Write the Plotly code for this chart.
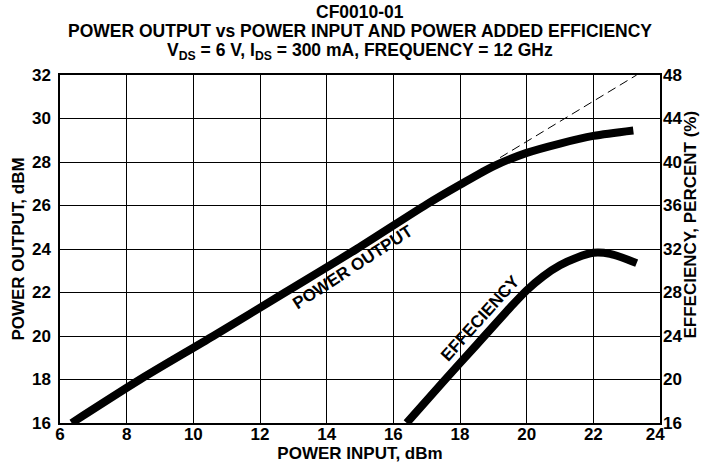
import plotly.graph_objects as go

# Data
pin_out = [6.35, 8.4, 10.6, 12.75, 14.9, 17.0, 18.0, 19.0, 20.0, 21.0, 22.0, 23.2]
pout = [16.0, 18.0, 20.0, 22.0, 24.0, 26.05, 26.95, 27.8, 28.42, 28.85, 29.2, 29.45]
pin_lin = [19.2, 23.3]
pout_lin = [28.2, 32.0]
pin_eff = [16.4, 17.5, 18.5, 19.5, 20.0, 20.5, 21.0, 21.5, 22.0, 22.5, 23.3]
eff = [16.0, 19.8, 23.2, 26.6, 28.2, 29.5, 30.5, 31.2, 31.65, 31.55, 30.7]

x_ticks = [6, 8, 10, 12, 14, 16, 18, 20, 22, 24]
x_ticktext = ["6", "8", "10", "12", "14", "16", "18", "20", "22", "24\u00a0\u00a0"]
y_ticks = [16, 18, 20, 22, 24, 26, 28, 30, 32]
y2_ticks = [16, 20, 24, 28, 32, 36, 40, 44, 48]

FONT = "Liberation Sans"
TF = dict(family=FONT, size=17, color="black", weight="bold")
AF = dict(family=FONT, size=17, color="black")

fig = go.Figure()
fig.add_trace(go.Scatter(x=pin_out, y=pout, mode="lines",
                         line=dict(color="black", width=8, shape="spline", smoothing=0.8),
                         showlegend=False))
fig.add_trace(go.Scatter(x=pin_lin, y=pout_lin, mode="lines",
                         line=dict(color="black", width=1, dash="9px,5px"),
                         showlegend=False))
fig.add_trace(go.Scatter(x=pin_eff, y=eff, mode="lines", yaxis="y2",
                         line=dict(color="black", width=8, shape="spline", smoothing=0.8),
                         showlegend=False))

axis_common = dict(showline=True, linecolor="black", linewidth=1.5, mirror=True,
                   showgrid=True, gridcolor="black", gridwidth=1.2, zeroline=False,
                   tickfont=TF, ticks="", automargin=False)

fig.update_layout(
    width=705, height=465,
    margin=dict(l=60, r=45, t=75, b=42),
    paper_bgcolor="white", plot_bgcolor="white",
    font=dict(family=FONT, color="black"),
    xaxis=dict(range=[6, 24], tickvals=x_ticks, ticktext=x_ticktext,
               ticklabelstandoff=-5, **axis_common,
               title=dict(text="<b>POWER INPUT, dBm</b>", font=AF, standoff=0)),
    yaxis=dict(range=[16, 32], tickvals=y_ticks, ticklabelstandoff=4, **axis_common,
               title=dict(text="<b>POWER OUTPUT, dBM</b>", font=AF, standoff=3)),
    yaxis2=dict(range=[16, 48], tickvals=y2_ticks, overlaying="y", side="right",
                showgrid=False, showline=False, zeroline=False, tickfont=TF,
                ticklabelstandoff=2, automargin=False),
)

fig.add_annotation(x=0.5, y=1, xref="paper", yref="paper", yshift=63, yanchor="middle",
                   showarrow=False, text="<b>CF0010-01</b>",
                   font=dict(family=FONT, size=17.5, color="black"))
fig.add_annotation(x=0.5, y=1, xref="paper", yref="paper", yshift=44, yanchor="middle",
                   showarrow=False,
                   text="<b>POWER OUTPUT vs POWER INPUT AND POWER ADDED EFFICIENCY</b>",
                   font=dict(family=FONT, size=17.5, color="black"))
fig.add_annotation(x=0.5, y=1, xref="paper", yref="paper", yshift=24, yanchor="middle",
                   showarrow=False,
                   text="<b>V<sub>DS</sub> = 6 V, I<sub>DS</sub> = 300 mA, FREQUENCY = 12 GHz</b>",
                   font=dict(family=FONT, size=17.5, color="black"))

fig.add_annotation(x=1, y=0.5, xref="paper", yref="paper", xshift=41, yshift=24,
                   textangle=-90, showarrow=False,
                   text="<b>EFFECIENCY, PERCENT (%)</b>", font=AF)

fig.add_annotation(x=14.77, y=23.17, text="<b>POWER OUTPUT</b>", showarrow=False,
                   textangle=-33, font=AF)
fig.add_annotation(x=18.6, y=20.82, text="<b>EFFECIENCY</b>", showarrow=False,
                   textangle=-48, font=AF)

fig.write_html("out.html", config={"displayModeBar": False},
               post_script="document.body.style.margin='0';document.body.style.overflow='hidden';")
